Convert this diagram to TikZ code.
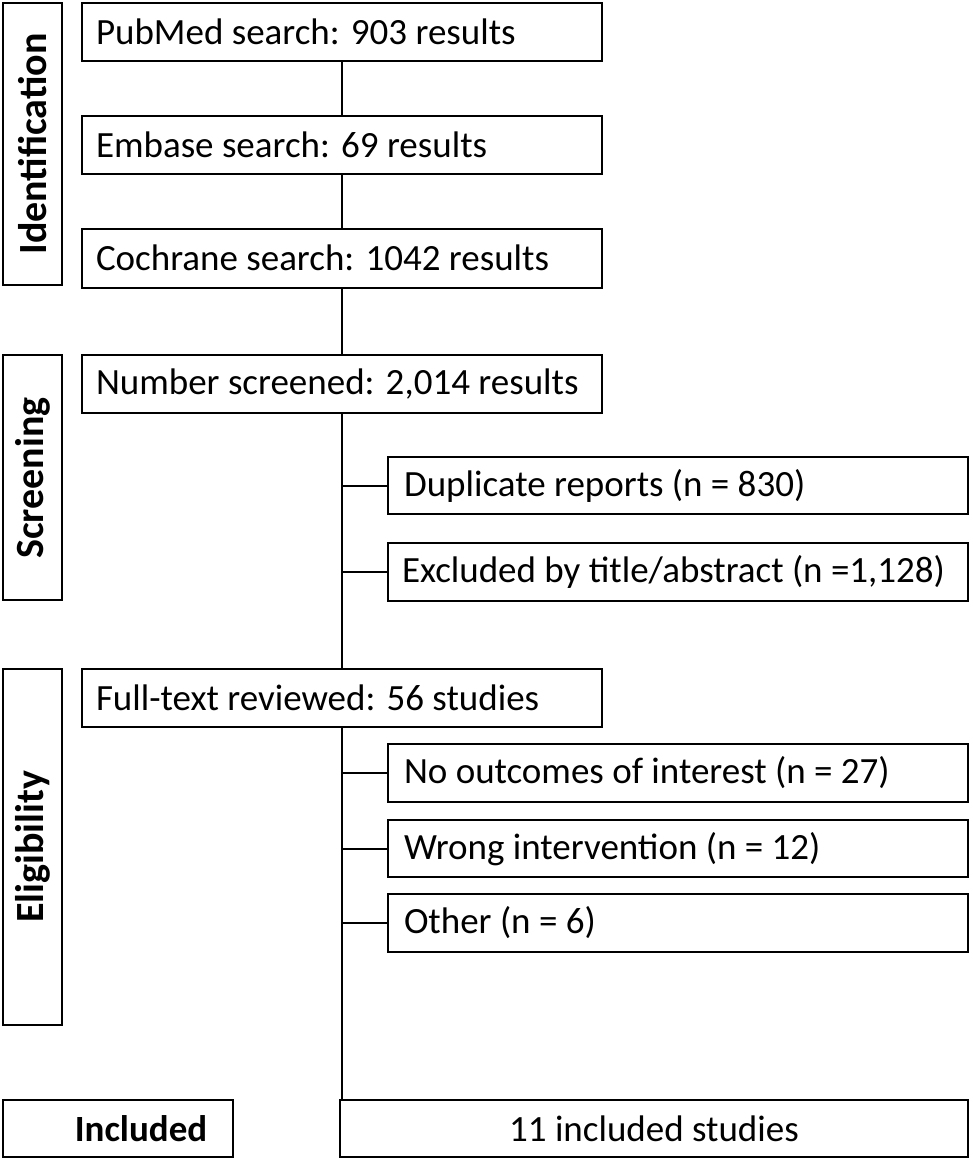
\documentclass[tikz,border=0pt]{standalone}
\usepackage{fontspec}
\setmainfont{Carlito}
\begin{document}
\begin{tikzpicture}[x=1pt,y=-1pt,line width=2pt,
  lbl/.style={font=\fontsize{37}{40}\selectfont,inner sep=0pt},
  side/.style={font=\bfseries\fontsize{40}{44}\selectfont,rotate=90,inner sep=0pt}]
\useasboundingbox (0,0) rectangle (972,1159);
\draw (82,3) rectangle (602,61); \node[lbl,anchor=west] (pub) at (95,32) {PubMed search: 903 results};
\draw (82,116) rectangle (602,174); \node[lbl,anchor=west] (emb) at (95,145) {Embase search: 69 results};
\draw (82,229) rectangle (602,288); \node[lbl,anchor=west] (coc) at (95,258) {Cochrane search: 1042 results};
\draw (82,355) rectangle (602,413); \node[lbl,anchor=west] (scr) at (95,384) {Number screened: 2,014 results};
\draw (388,457) rectangle (968,514); \node[lbl,anchor=west] (dup) at (403,486) {Duplicate reports (n = 830)};
\draw (388,543) rectangle (968,601); \node[lbl,anchor=west] (exc) at (401,572) {Excluded by title/abstract (n =1,128)};
\draw (82,669) rectangle (602,727); \node[lbl,anchor=west] (ft) at (95,698) {Full-text reviewed: 56 studies};
\draw (388,744) rectangle (968,802); \node[lbl,anchor=west] (noo) at (403,773) {No outcomes of interest (n = 27)};
\draw (388,820) rectangle (968,877); \node[lbl,anchor=west] (wro) at (403,849) {Wrong intervention (n = 12)};
\draw (388,894) rectangle (968,952); \node[lbl,anchor=west] (oth) at (403,923) {Other (n = 6)};
\draw (3,1100) rectangle (233,1157); \node[lbl,font=\bfseries\fontsize{37}{40}\selectfont] (inc) at (141,1129) {Included};
\draw (340,1100) rectangle (968,1157); \node[lbl] (inc2) at (654,1129) {11 included studies};
\draw (3,3) rectangle (62,285); \node[side] (id) at (33,144) {Identification};
\draw (3,355) rectangle (62,600); \node[side] (sc) at (33,478) {Screening};
\draw (3,669) rectangle (62,1025); \node[side] (el) at (33,847) {Eligibility};
\draw (342,61) -- (342,116) (342,174) -- (342,229) (342,288) -- (342,355)
      (342,413) -- (342,669) (342,727) -- (342,1100);
\foreach \y in {486,572,773,849,923} \draw (342,\y) -- (388,\y);
\end{tikzpicture}
\end{document}
